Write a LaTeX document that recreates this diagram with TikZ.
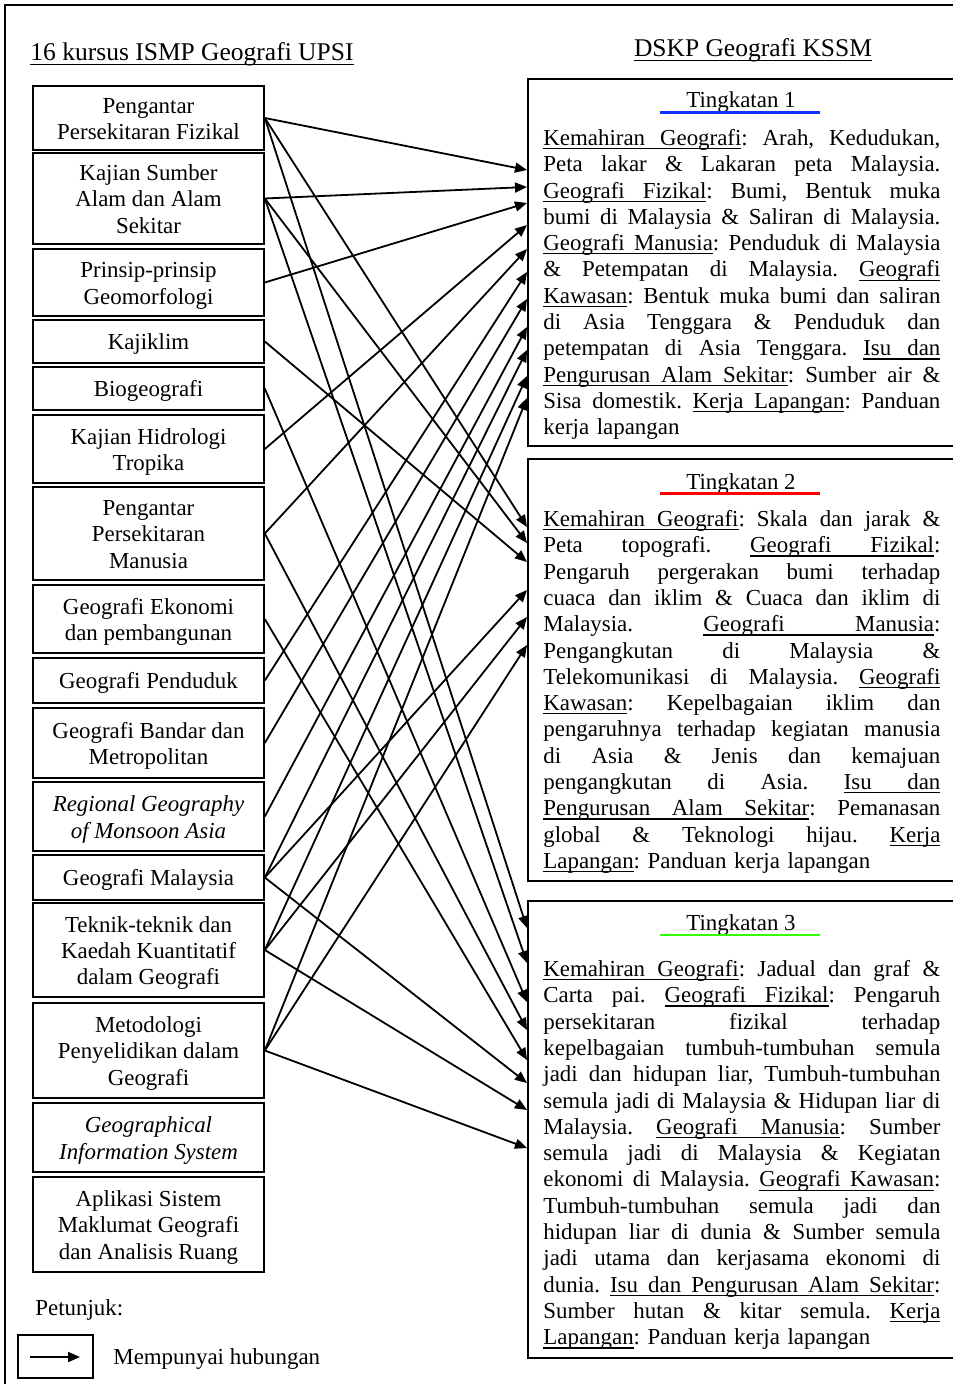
\documentclass[tikz,border=0pt]{standalone}
\usepackage{fontspec}
\setmainfont{Liberation Serif}
\usetikzlibrary{arrows.meta}
\newcommand{\tx}{\fontsize{11.45pt}{13.15pt}\selectfont}
\newcommand{\hx}{\fontsize{12.75pt}{15pt}\selectfont}
% justified line: all spaces stretch equally
\newcommand{\jl}[1]{{\frenchspacing\spaceskip=0.25em plus 4em\relax\xspaceskip=\spaceskip\makebox[198.5pt][s]{#1}}\\}
% underline: word by word, spaces underlined with stretchable leaders
\newcommand{\uw}[1]{\leavevmode\setbox0\hbox{#1}\rlap{\vrule height -1.3pt depth 1.9pt width\wd0}\box0}
\newcommand{\us}{\leaders\hrule height -1.3pt depth 1.9pt\hskip 0.25em plus 4em\relax}
\def\ulw#1{\ulwi#1 \relax}
\def\ulwi#1 #2\relax{\uw{#1}\ifx\relax#2\relax\else\us\ulwi#2\relax\fi}
% left box text: centred lines, moved slightly down inside the box
\newcommand{\lt}[1]{\raisebox{-1.6pt}[\height][\depth]{\begin{tabular}{@{}c@{}}#1\end{tabular}}}
\definecolor{ublue}{RGB}{20,50,255}
\definecolor{ured}{RGB}{255,0,0}
\definecolor{ugreen}{RGB}{50,255,0}
\begin{document}
\begin{tikzpicture}[x=0.5pt,y=-0.5pt,
  lbox/.style={draw, line width=0.8pt, minimum width=115.5pt, inner sep=0pt, font=\tx},
  rbox/.style={draw, line width=0.8pt, anchor=north west, minimum width=214pt, inner sep=0pt},
  body/.style={anchor=base west, text width=198.5pt, align=left, inner sep=0pt, font=\tx\frenchspacing},
  ttl/.style={anchor=base, inner sep=0pt, font=\tx},
  arr/.style={-{Triangle[length=6pt,width=5pt]}, line width=0.9pt},
]
\useasboundingbox (0,0) rectangle (952,1384);
\draw[line width=0.7pt] (5,1400) -- (5,5) -- (970,5);

% headings
\node[anchor=base, inner sep=0pt, font=\hx] (h1) at (192,61) {\ulw{16 kursus ISMP Geografi UPSI}};
\node[anchor=base, inner sep=0pt, font=\hx] (h2) at (753,57) {\ulw{DSKP Geografi KSSM}};

% left boxes
\node[lbox, minimum height=32pt]   (b1)  at (148.5,118)   {\lt{Pengantar\\Persekitaran Fizikal}};
\node[lbox, minimum height=45.5pt] (b2)  at (148.5,198.5) {\lt{Kajian Sumber\\Alam dan Alam\\Sekitar}};
\node[lbox, minimum height=33.5pt] (b3)  at (148.5,282.5) {\lt{Prinsip-prinsip\\Geomorfologi}};
\node[lbox, minimum height=21.5pt] (b4)  at (148.5,341.5) {\lt{Kajiklim}};
\node[lbox, minimum height=21.5pt] (b5)  at (148.5,388.5) {\lt{Biogeografi}};
\node[lbox, minimum height=34pt]   (b6)  at (148.5,449)   {\lt{Kajian Hidrologi\\Tropika}};
\node[lbox, minimum height=46.5pt] (b7)  at (148.5,533.5) {\lt{Pengantar\\Persekitaran\\Manusia}};
\node[lbox, minimum height=34pt]   (b8)  at (148.5,619)   {\lt{Geografi Ekonomi\\dan pembangunan}};
\node[lbox, minimum height=22.5pt] (b9)  at (148.5,680.5) {\lt{Geografi Penduduk}};
\node[lbox, minimum height=35pt]   (b10) at (148.5,743)   {\lt{Geografi Bandar dan\\Metropolitan}};
\node[lbox, minimum height=34.5pt, font=\tx\itshape] (b11) at (148.5,816.5) {\lt{Regional Geography\\of Monsoon Asia}};
\node[lbox, minimum height=22.5pt] (b12) at (148.5,877.5) {\lt{Geografi Malaysia}};
\node[lbox, minimum height=47pt]   (b13) at (148.5,950)   {\lt{Teknik-teknik dan\\Kaedah Kuantitatif\\dalam Geografi}};
\node[lbox, minimum height=47.5pt] (b14) at (148.5,1050.5) {\lt{Metodologi\\Penyelidikan dalam\\Geografi}};
\node[lbox, minimum height=34.5pt, font=\tx\itshape] (b15) at (148.5,1137.5) {\lt{Geographical\\Information System}};
\node[lbox, minimum height=47.5pt] (b16) at (148.5,1224.5) {\lt{Aplikasi Sistem\\Maklumat Geografi\\dan Analisis Ruang}};

% right boxes
\node[rbox, minimum height=183.5pt] (T1) at (527,78) {};
\node[rbox, minimum height=211pt]   (T2) at (527,458) {};
\node[rbox, minimum height=228.5pt] (T3) at (527,900) {};

\node[ttl] (tt1) at (741,108) {Tingkatan 1};
\node[ttl] (tt2) at (741,489) {Tingkatan 2};
\node[ttl] (tt3) at (741,930) {Tingkatan 3};
\draw[ublue, line width=1.1pt] (660,112.5) -- (820,112.5);
\draw[ured, line width=1.1pt] (660,493.5) -- (820,493.5);
\draw[ugreen, line width=1.1pt] (660,935) -- (820,935);

\node[body] (p1) at (543,145.5) {%
\jl{\ulw{Kemahiran Geografi}: Arah, Kedudukan,}
\jl{Peta lakar \& Lakaran peta Malaysia.}
\jl{\ulw{Geografi Fizikal}: Bumi, Bentuk muka}
\jl{bumi di Malaysia \& Saliran di Malaysia.}
\jl{\ulw{Geografi Manusia}: Penduduk di Malaysia}
\jl{\& Petempatan di Malaysia. \ulw{Geografi}}
\jl{\ulw{Kawasan}: Bentuk muka bumi dan saliran}
\jl{di Asia Tenggara \& Penduduk dan}
\jl{petempatan di Asia Tenggara. \ulw{Isu dan}}
\jl{\ulw{Pengurusan Alam Sekitar}: Sumber air \&}
\jl{Sisa domestik. \ulw{Kerja Lapangan}: Panduan}
kerja lapangan};

\node[body] (p2) at (543,526.5) {%
\jl{\ulw{Kemahiran Geografi}: Skala dan jarak \&}
\jl{Peta topografi. \ulw{Geografi Fizikal}:}
\jl{Pengaruh pergerakan bumi terhadap}
\jl{cuaca dan iklim \& Cuaca dan iklim di}
\jl{Malaysia. \ulw{Geografi Manusia}:}
\jl{Pengangkutan di Malaysia \&}
\jl{Telekomunikasi di Malaysia. \ulw{Geografi}}
\jl{\ulw{Kawasan}: Kepelbagaian iklim dan}
\jl{pengaruhnya terhadap kegiatan manusia}
\jl{di Asia \& Jenis dan kemajuan}
\jl{pengangkutan di Asia. \ulw{Isu dan}}
\jl{\ulw{Pengurusan Alam Sekitar}: Pemanasan}
\jl{global \& Teknologi hijau. \ulw{Kerja}}
\ulw{Lapangan}: Panduan kerja lapangan};

\node[body] (p3) at (543,976.5) {%
\jl{\ulw{Kemahiran Geografi}: Jadual dan graf \&}
\jl{Carta pai. \ulw{Geografi Fizikal}: Pengaruh}
\jl{persekitaran fizikal terhadap}
\jl{kepelbagaian tumbuh-tumbuhan semula}
\jl{jadi dan hidupan liar, Tumbuh-tumbuhan}
\jl{semula jadi di Malaysia \& Hidupan liar di}
\jl{Malaysia. \ulw{Geografi Manusia}: Sumber}
\jl{semula jadi di Malaysia \& Kegiatan}
\jl{ekonomi di Malaysia. \ulw{Geografi Kawasan}:}
\jl{Tumbuh-tumbuhan semula jadi dan}
\jl{hidupan liar di dunia \& Sumber semula}
\jl{jadi utama dan kerjasama ekonomi di}
\jl{dunia. \ulw{Isu dan Pengurusan Alam Sekitar}:}
\jl{Sumber hutan \& kitar semula. \ulw{Kerja}}
\ulw{Lapangan}: Panduan kerja lapangan};

% arrow targets
\coordinate (a1) at (527,170);  \coordinate (a2) at (527,187);
\coordinate (a3) at (527,203);  \coordinate (a4) at (527,225);
\coordinate (a5) at (527,249);  \coordinate (a6) at (527,272);
\coordinate (a7) at (527,299);  \coordinate (a8) at (527,327);
\coordinate (a9) at (527,350);  \coordinate (a10) at (527,376);
\coordinate (a11) at (527,398);
\coordinate (c1) at (527,527);  \coordinate (c2) at (527,543);
\coordinate (c3) at (527,562);  \coordinate (c4) at (527,590);
\coordinate (c5) at (527,617);  \coordinate (c6) at (527,645);
\coordinate (d1) at (527,928);  \coordinate (d2) at (527,963);
\coordinate (d3) at (527,1002); \coordinate (d4) at (527,1030);
\coordinate (d5) at (527,1060); \coordinate (d6) at (527,1083);
\coordinate (d7) at (527,1110); \coordinate (d8) at (527,1148);

\draw[arr] (b1.east) -- (a1);
\draw[arr] (b1.east) -- (c1);
\draw[arr] (b1.east) -- (d1);
\draw[arr] (b2.east) -- (a2);
\draw[arr] (b2.east) -- (c2);
\draw[arr] (b2.east) -- (d2);
\draw[arr] (b3.east) -- (a3);
\draw[arr] (b4.east) -- (c3);
\draw[arr] (b5.east) -- (d3);
\draw[arr] (b6.east) -- (a4);
\draw[arr] (b7.east) -- (a5);
\draw[arr] (b7.east) -- (d4);
\draw[arr] (b8.east) -- (d5);
\draw[arr] (b9.east) -- (a6);
\draw[arr] (b10.east) -- (a7);
\draw[arr] (b11.east) -- (a8);
\draw[arr] (b12.east) -- (a9);
\draw[arr] (b12.east) -- (c4);
\draw[arr] (b12.east) -- (d6);
\draw[arr] (b13.east) -- (a10);
\draw[arr] (b13.east) -- (c5);
\draw[arr] (b13.east) -- (d7);
\draw[arr] (b14.east) -- (a11);
\draw[arr] (b14.east) -- (c6);
\draw[arr] (b14.east) -- (d8);

% legend
\node[anchor=base west, inner sep=0pt, font=\tx] (pet) at (35,1315) {Petunjuk:};
\node[draw, line width=0.7pt, minimum width=37.5pt, minimum height=21.5pt, inner sep=0pt] (leg) at (55.5,1356.5) {};
\coordinate (la) at (30,1357);
\coordinate (lb) at (80,1357);
\draw[arr] (la) -- (lb);
\node[anchor=base west, inner sep=0pt, font=\tx] (legt) at (113,1364) {Mempunyai hubungan};
\end{tikzpicture}
\end{document}
